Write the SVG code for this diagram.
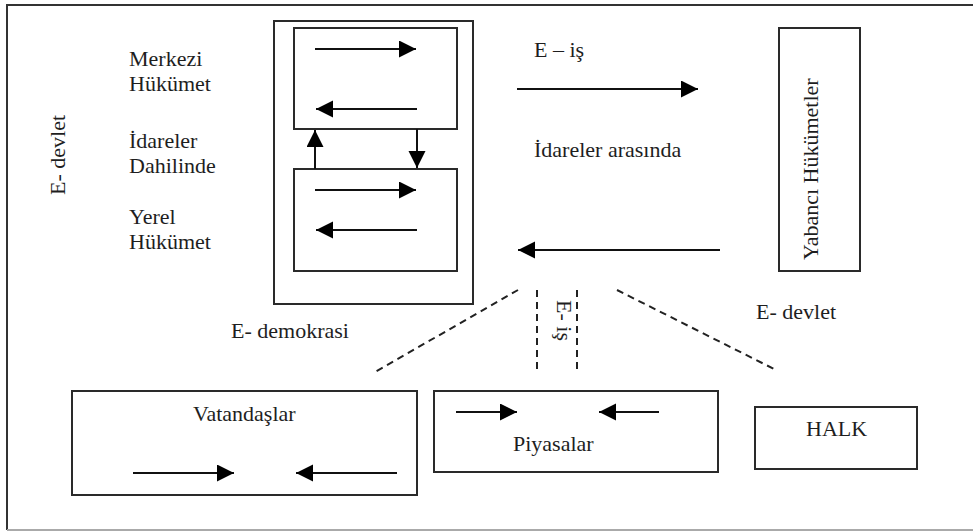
<svg xmlns="http://www.w3.org/2000/svg" width="973" height="532" viewBox="0 0 973 532">
<style>
text{font-family:"Liberation Serif","Times New Roman",serif;font-size:22px;fill:#1e1e1e}
.box{fill:none;stroke:#2a2a2a;stroke-width:2}
.arr{fill:none;stroke:#111;stroke-width:2;marker-end:url(#ah)}
.dash{fill:none;stroke:#222;stroke-width:2;stroke-dasharray:7,5}
</style>
<defs>
<marker id="ah" markerUnits="userSpaceOnUse" markerWidth="18" markerHeight="18" refX="17" refY="8.5" orient="auto">
<path d="M0,0 L17,8.5 L0,17 z" fill="#000"/>
</marker>
</defs>
<rect width="973" height="532" fill="#fff"/>
<g id="frame">
<path d="M973,5 H7 V530" fill="none" stroke="#333" stroke-width="2"/>
<path d="M7,530 H973" fill="none" stroke="#aaa" stroke-width="2"/>
</g>
<g font-family="Liberation Serif, Times New Roman, serif" font-size="22">
<g id="e-devlet-left"><text transform="translate(65,195) rotate(-90)">E- devlet</text></g>
<g id="idareler-dahilinde">
<rect class="box" x="274" y="21" width="199" height="283"/>
<text x="129" y="148">İdareler</text>
<text x="129" y="173">Dahilinde</text>
</g>
<g id="merkezi-hukumet">
<rect class="box" x="294" y="28" width="163" height="101"/>
<text x="129" y="66">Merkezi</text>
<text x="129" y="91">Hükümet</text>
</g>
<g id="yerel-hukumet">
<rect class="box" x="294" y="169" width="163" height="102"/>
<text x="129" y="224">Yerel</text>
<text x="129" y="249">Hükümet</text>
</g>
<g id="yabanci-hukumetler">
<rect class="box" x="779" y="28" width="81" height="243"/>
<text transform="translate(818,260) rotate(-90)">Yabancı Hükümetler</text>
</g>
<g id="vatandaslar">
<rect class="box" x="72" y="391" width="345" height="104"/>
<text x="193" y="421">Vatandaşlar</text>
</g>
<g id="piyasalar">
<rect class="box" x="434" y="391" width="284" height="81"/>
<text x="513" y="451">Piyasalar</text>
</g>
<g id="halk">
<rect class="box" x="755" y="407" width="162" height="62"/>
<text x="806" y="436">HALK</text>
</g>
<g id="labels">
<text x="534" y="57">E – iş</text>
<text x="534" y="157">İdareler arasında</text>
<text x="231" y="338">E- demokrasi</text>
<text x="756" y="319">E- devlet</text>
<text transform="translate(557,300) rotate(90)">E- iş</text>
</g>
</g>
<g id="connectors">
<line class="arr" x1="315" y1="49" x2="416" y2="49"/>
<line class="arr" x1="417" y1="109" x2="316" y2="109"/>
<line class="arr" x1="315" y1="169" x2="315" y2="130"/>
<line class="arr" x1="417" y1="129" x2="417" y2="168"/>
<line class="arr" x1="315" y1="190" x2="416" y2="190"/>
<line class="arr" x1="417" y1="230" x2="316" y2="230"/>
<line class="arr" x1="517" y1="89" x2="698" y2="89"/>
<line class="arr" x1="720" y1="250" x2="518" y2="250"/>
<line class="arr" x1="133" y1="473" x2="234" y2="473"/>
<line class="arr" x1="397" y1="473" x2="296" y2="473"/>
<line class="arr" x1="456" y1="412" x2="517" y2="412"/>
<line class="arr" x1="659" y1="412" x2="599" y2="412"/>
<line class="dash" x1="518" y1="290" x2="375" y2="372"/>
<line class="dash" x1="617" y1="290" x2="776" y2="370"/>
<line class="dash" x1="537" y1="290" x2="537" y2="372"/>
<line class="dash" x1="577" y1="290" x2="577" y2="372"/>
</g>
</svg>
